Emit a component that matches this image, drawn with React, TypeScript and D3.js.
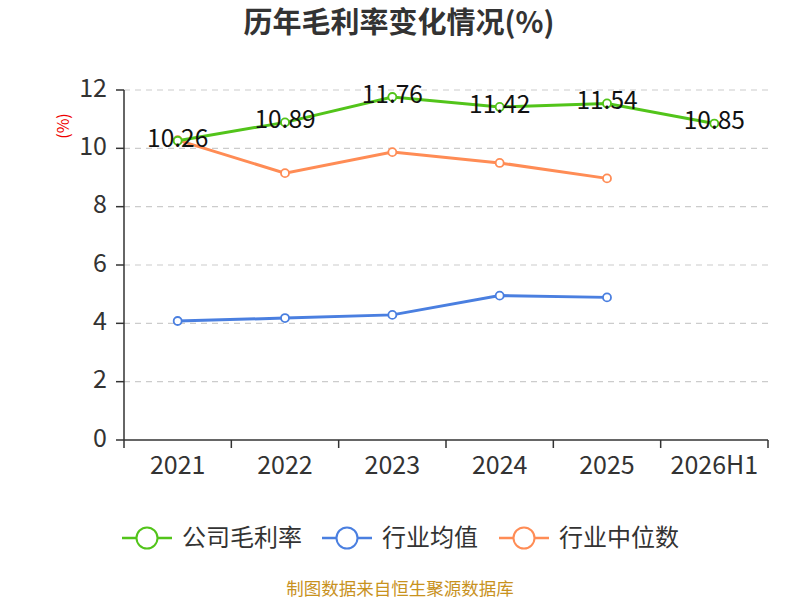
import React from "react";
import * as d3 from "d3";

const categories = ["2021", "2022", "2023", "2024", "2025", "2026H1"];
const companyMargin = [10.26, 10.89, 11.76, 11.42, 11.54, 10.85];
const industryMean = [4.08, 4.18, 4.29, 4.95, 4.89];
const industryMedian = [10.28, 9.15, 9.87, 9.5, 8.97];
const yTicks = [0, 2, 4, 6, 8, 10, 12];
const seriesNames = ["公司毛利率", "行业均值", "行业中位数"];
const seriesColors = ["#52c41a", "#4a7fe0", "#ff8c55"];

const FONT = "'Noto Sans CJK SC', 'Noto Sans', sans-serif";

export default function App() {
  const W = 800, H = 600;
  const left = 124, right = 768, top = 90, bottom = 440;
  const x = d3.scaleBand<string>().domain(categories).range([left, right]);
  const y = d3.scaleLinear().domain([0, 12]).range([bottom, top]);
  const cx = (c: string) => (x(c) as number) + x.bandwidth() / 2;

  const series = [companyMargin, industryMean, industryMedian];
  const line = d3
    .line<number>()
    .x((_, i) => cx(categories[i]))
    .y((d) => y(d));

  const bandEdges = categories.map((c) => x(c) as number).concat([right]);
  const legendX = [122, 322, 499];
  const legendY = 538;

  return (
    <svg
      width={W}
      height={H}
      style={{ position: "absolute", left: 0, top: 0, background: "#fff" }}
      fontFamily={FONT}
    >
      <text x={399} y={33} textAnchor="middle" fontSize={29} fontWeight="bold" fill="#333">
        历年毛利率变化情况(%)
      </text>

      {yTicks.map((t) => (
        <g key={t}>
          {t > 0 && (
            <line x1={left} x2={right} y1={y(t)} y2={y(t)} stroke="#ccc" strokeWidth={1.2} strokeDasharray="6,5" />
          )}
          <line x1={left - 8} x2={left} y1={y(t)} y2={y(t)} stroke="#333" strokeWidth={1.5} />
          <text x={left - 17} y={y(t) + 6.5} textAnchor="end" fontSize={25} fill="#333">
            {t}
          </text>
        </g>
      ))}
      <line x1={left} x2={left} y1={top} y2={bottom} stroke="#333" strokeWidth={1.5} />
      <line x1={left} x2={right} y1={bottom} y2={bottom} stroke="#333" strokeWidth={1.5} />
      {bandEdges.map((e, i) => (
        <line key={i} x1={e} x2={e} y1={bottom} y2={bottom + 8} stroke="#333" strokeWidth={1.5} />
      ))}
      {categories.map((c) => (
        <text key={c} x={cx(c)} y={473.5} textAnchor="middle" fontSize={25} fill="#333">
          {c}
        </text>
      ))}
      <text
        transform={`translate(69,126) rotate(-90)`}
        textAnchor="middle"
        fontSize={16}
        fill="#e00"
      >
        (%)
      </text>

      {[2, 1, 0].map((si) => (
        <g key={si}>
          <path d={line(series[si]) || ""} fill="none" stroke={seriesColors[si]} strokeWidth={3} />
          {series[si].map((v, i) => (
            <circle
              key={i}
              cx={cx(categories[i])}
              cy={y(v)}
              r={4}
              fill="#fff"
              stroke={seriesColors[si]}
              strokeWidth={1.8}
            />
          ))}
        </g>
      ))}

      {companyMargin.map((v, i) => (
        <text key={i} x={cx(categories[i])} y={y(v)} dy="0.24em" textAnchor="middle" fontSize={24.5} fill="#111">
          {v.toFixed(2)}
        </text>
      ))}

      {seriesNames.map((n, i) => (
        <g key={n}>
          <line x1={legendX[i]} x2={legendX[i] + 50} y1={legendY} y2={legendY} stroke={seriesColors[i]} strokeWidth={2.5} />
          <circle cx={legendX[i] + 25} cy={legendY} r={10.5} fill="#fff" stroke={seriesColors[i]} strokeWidth={2} />
          <text x={legendX[i] + 60} y={legendY} dy="0.35em" fontSize={24} fill="#333">
            {n}
          </text>
        </g>
      ))}

      <text x={400} y={595} textAnchor="middle" fontSize={17.5} fill="#c8921e">
        制图数据来自恒生聚源数据库
      </text>
    </svg>
  );
}
